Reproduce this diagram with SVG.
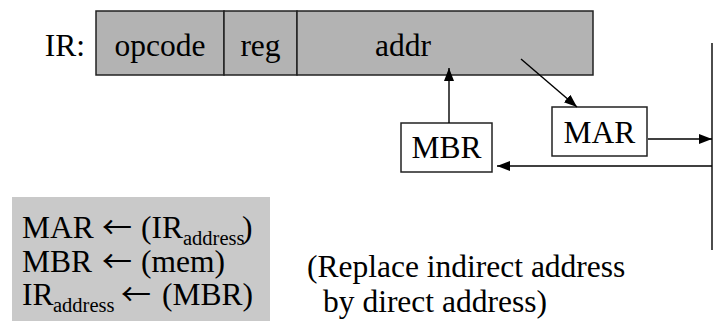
<svg xmlns="http://www.w3.org/2000/svg" width="717" height="321" viewBox="0 0 717 321">
<style>
text{font-family:"Liberation Serif","Times New Roman",serif;font-size:31.5px;fill:#000}
.c{text-anchor:middle}
.sub{font-size:20.5px}
.arr{font-family:"Noto Sans CJK SC","DejaVu Sans",sans-serif;font-size:30px}
.ir{fill:#b3b3b3;stroke:#222;stroke-width:1.5}
.bx{fill:#fff;stroke:#222;stroke-width:1.5}
.ln{fill:none;stroke:#000;stroke-width:1.4}
</style>
<defs>
<marker id="ah" markerUnits="userSpaceOnUse" markerWidth="14" markerHeight="12" refX="13" refY="5" orient="auto" viewBox="0 0 14 12">
<path d="M0,0 L13,5 L0,10 z" fill="#000"/>
</marker>
</defs>
<g id="ir-label"><text x="85" y="56" text-anchor="end">IR:</text></g>
<g id="ir-opcode"><rect class="ir" x="96" y="11" width="128" height="64"/><text class="c" x="160" y="56">opcode</text></g>
<g id="ir-reg"><rect class="ir" x="224" y="11" width="73" height="64"/><text class="c" x="260.5" y="56">reg</text></g>
<g id="ir-addr"><rect class="ir" x="297" y="11" width="296" height="64"/><text class="c" x="403" y="56">addr</text></g>
<g id="mbr"><rect class="bx" x="401" y="123" width="91" height="49"/><text class="c" x="446.5" y="158">MBR</text></g>
<g id="mar"><rect class="bx" x="552" y="107" width="95" height="49"/><text class="c" x="599.5" y="143">MAR</text></g>
<g id="connectors">
<line class="ln" x1="449" y1="123" x2="449" y2="68" marker-end="url(#ah)"/>
<line class="ln" x1="521" y1="59" x2="577" y2="107" marker-end="url(#ah)"/>
<line class="ln" x1="648" y1="139" x2="712" y2="139" marker-end="url(#ah)"/>
<line class="ln" x1="712" y1="43" x2="712" y2="250"/>
<line class="ln" x1="712" y1="166" x2="497" y2="166" marker-end="url(#ah)"/>
</g>
<g id="rtl-box">
<rect x="12" y="197" width="258" height="124" fill="#c9c9c9"/>
<text x="22" y="238">MAR<tspan class="arr" x="102">←</tspan><tspan x="141">(IR</tspan><tspan class="sub" x="183" dy="7">address</tspan><tspan x="242" dy="-7">)</tspan></text>
<text x="22" y="272">MBR<tspan class="arr" x="102">←</tspan><tspan x="141">(mem)</tspan></text>
<text x="22" y="305">IR<tspan class="sub" x="53" dy="7">address</tspan><tspan class="arr" x="121" dy="-7">←</tspan><tspan x="162">(MBR)</tspan></text>
</g>
<g id="note">
<text x="307" y="277">(Replace indirect address</text>
<text x="323" y="312">by direct address)</text>
</g>
</svg>
